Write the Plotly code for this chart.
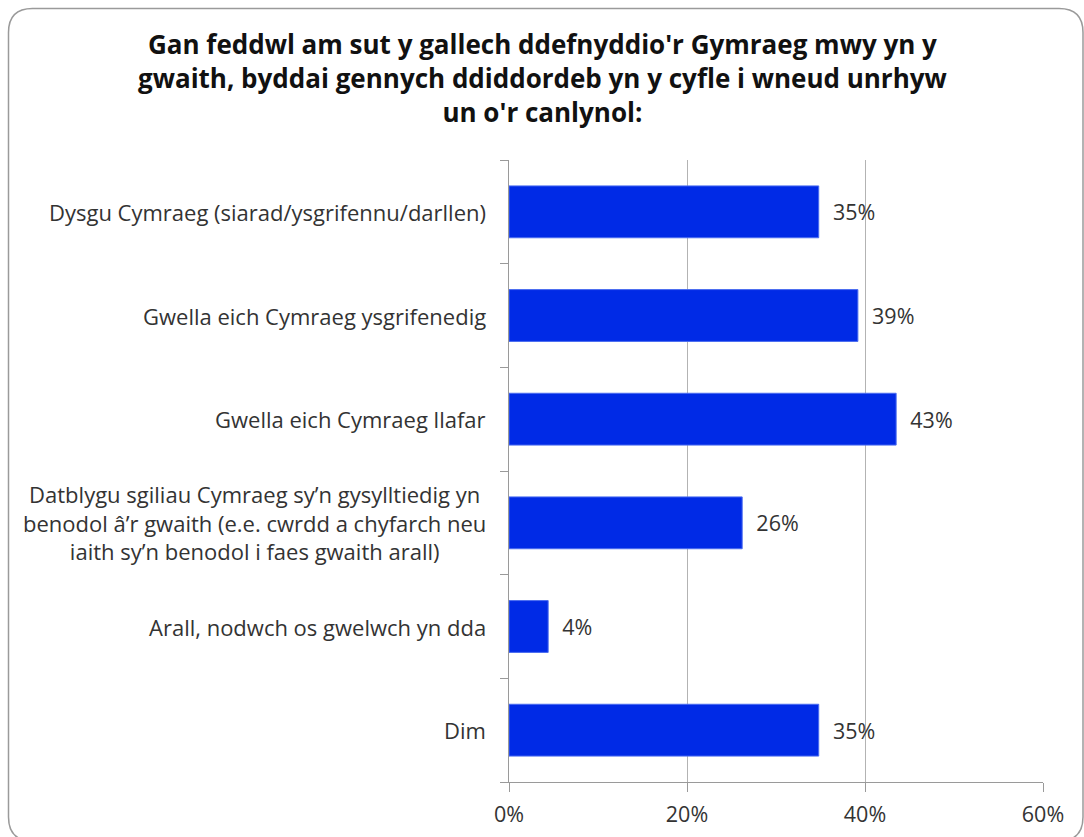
import plotly.graph_objects as go

categories = [
    "Dysgu Cymraeg (siarad/ysgrifennu/darllen)",
    "Gwella eich Cymraeg ysgrifenedig",
    "Gwella eich Cymraeg llafar",
    "Datblygu sgiliau Cymraeg sy\u2019n gysylltiedig yn<br>benodol \u00e2\u2019r gwaith (e.e. cwrdd a chyfarch neu<br>iaith sy\u2019n benodol i faes gwaith arall)",
    "Arall, nodwch os gwelwch yn dda",
    "Dim",
]
values = [34.8, 39.2, 43.5, 26.2, 4.4, 34.8]
labels = ["35%", "39%", "43%", "26%", "4%", "35%"]
x_ticks = [0, 20, 40, 60]
x_ticklabels = ["0%", "20%", "40%", "60%"]

title = ("Gan feddwl am sut y gallech ddefnyddio'r Gymraeg mwy yn y<br>"
         "gwaith, byddai gennych ddiddordeb yn y cyfle i wneud unrhyw<br>"
         "un o'r canlynol:")

W, H = 1084, 837
L, T = 509, 160
PR, PB = 1043, 782
R, B = W - PR, H - PB
pw, ph = PR - L, PB - T

FONT = "Open Sans"
TXT = "#333333"

def px(x):
    return (x - L) / pw

def py(y):
    return (PB - y) / ph

fig = go.Figure()
fig.add_trace(go.Bar(
    y=list(range(len(categories))), x=values, orientation="h",
    marker=dict(color="#002ae6", line=dict(color="#4a6cf0", width=1)),
    width=0.5,
    text=["\u00a0\u00a0" + s for s in labels], textposition="outside",
    textfont=dict(family=FONT, size=21.5, color=TXT),
    cliponaxis=False, hoverinfo="skip",
))

for i, c in enumerate(categories):
    fig.add_annotation(
        x=0, xref="paper", y=i, yref="y", text=c, showarrow=False,
        xanchor="right", yanchor="middle", align="center", xshift=-21,
        font=dict(family=FONT, size=22, color=TXT),
    )

fig.add_annotation(
    x=px(542), xref="paper", y=py(24), yref="paper", text=title,
    showarrow=False, xanchor="center", yanchor="top", align="center",
    font=dict(family=FONT, size=26, color="#111111", weight="bold"),
)

x0, x1, y0, y1 = 8.5, 1083, 8.5, 841
r = 24
path = (f"M {px(x0+r)},{py(y0)} L {px(x1-r)},{py(y0)} "
        f"Q {px(x1)},{py(y0)} {px(x1)},{py(y0+r)} L {px(x1)},{py(y1-r)} "
        f"Q {px(x1)},{py(y1)} {px(x1-r)},{py(y1)} L {px(x0+r)},{py(y1)} "
        f"Q {px(x0)},{py(y1)} {px(x0)},{py(y1-r)} L {px(x0)},{py(y0+r)} "
        f"Q {px(x0)},{py(y0)} {px(x0+r)},{py(y0)} Z")
fig.add_shape(type="path", xref="paper", yref="paper", path=path,
              line=dict(color="#9a9a9a", width=1.5), layer="below")

fig.update_layout(
    width=W, height=H,
    margin=dict(l=L, r=R, t=T, b=B, autoexpand=False),
    paper_bgcolor="white", plot_bgcolor="white",
    showlegend=False,
    xaxis=dict(range=[0, 60], tickvals=x_ticks, ticktext=x_ticklabels,
               showgrid=True, gridcolor="#b3b3b3", gridwidth=1,
               showline=True, linecolor="#9a9a9a", linewidth=1,
               ticks="outside", ticklen=9, tickcolor="#9a9a9a",
               ticklabelstandoff=4, automargin=False,
               tickfont=dict(family=FONT, size=21.5, color=TXT),
               zeroline=False, fixedrange=True),
    yaxis=dict(range=[len(categories) - 0.5, -0.5],
               tickvals=[i - 0.5 for i in range(len(categories) + 1)],
               showticklabels=False, showgrid=False, automargin=False,
               showline=True, linecolor="#9a9a9a", linewidth=1,
               ticks="outside", ticklen=8, tickcolor="#9a9a9a",
               zeroline=False, fixedrange=True),
    bargap=0.5,
)

fig.write_html(
    "out.html",
    config={"displayModeBar": False},
    post_script="document.body.style.margin='0';document.body.style.overflow='hidden';",
)
